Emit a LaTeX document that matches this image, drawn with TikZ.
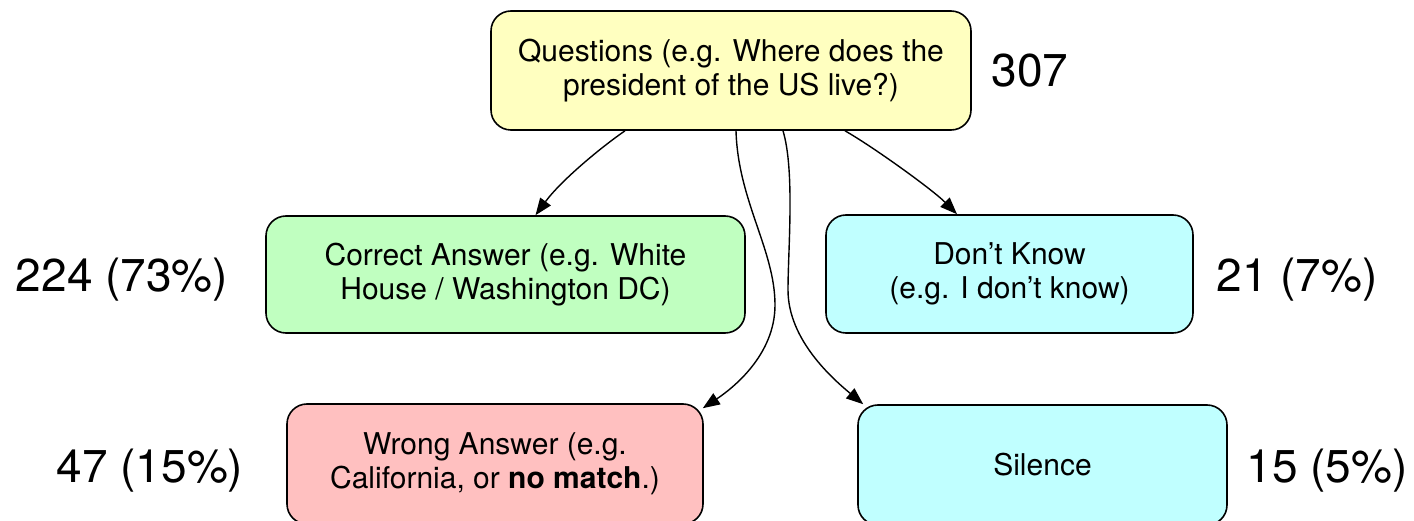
\documentclass[tikz,border=0pt]{standalone}
\usepackage{fontspec}
\setmainfont{TeX Gyre Heros}
\usetikzlibrary{arrows.meta}
\definecolor{qyellow}{RGB}{255,255,192}
\definecolor{cgreen}{RGB}{192,255,192}
\definecolor{dcyan}{RGB}{192,255,255}
\definecolor{wred}{RGB}{255,192,192}
\tikzset{
  box/.style={draw=black, line width=1.6pt, rounded corners=20pt, align=center,
    inner sep=0pt, font=\fontsize{30}{34}\selectfont},
  count/.style={anchor=base, inner sep=0pt, font=\fontsize{46}{50}\selectfont},
  conn/.style={line width=1.4pt, -{Triangle[length=17pt,width=13pt]}}
}
\begin{document}
\begin{tikzpicture}[x=1pt,y=-1pt]
\useasboundingbox (0,0) rectangle (1414,521);
\node[box, fill=qyellow, minimum width=480pt, minimum height=119pt] (q) at (731,70.5)
  {Questions (e.g. Where does the\\president of the US live?)};
\node[box, fill=cgreen, minimum width=479pt, minimum height=117pt] (c) at (505.5,274.5)
  {Correct Answer (e.g. White\\House / Washington DC)};
\node[box, fill=dcyan, minimum width=367pt, minimum height=118pt] (d) at (1009.5,274)
  {Don’t Know\\(e.g. I don’t know)};
\node[box, fill=wred, minimum width=416pt, minimum height=120pt] (w) at (495,464)
  {Wrong Answer (e.g.\\California, or \textbf{no match}.)};
\node[box, fill=dcyan, minimum width=369pt, minimum height=120pt] (s) at (1042.5,465)
  {Silence};

\node[count] (nq) at (1030,87) {307};
\node[count] (nc) at (122,292) {224 (73\%)};
\node[count] (nd) at (1297,292) {21 (7\%)};
\node[count] (nw) at (150,482) {47 (15\%)};
\node[count] (ns) at (1327,482) {15 (5\%)};

\coordinate (wm) at (775,305);
\coordinate (sm) at (788,290);

\draw[conn] ([xshift=-106pt]q.south) .. controls +(-26,18) and +(25,-34) .. ([xshift=30pt]c.north);
\draw[conn] ([xshift=114pt]q.south) .. controls +(28,16) and +(-25,-25) .. ([xshift=-52.5pt]d.north);
\draw[conn] ([xshift=5pt]q.south) .. controls +(2,70) and +(0,-55) .. (wm)
  .. controls +(0,50) and +(30,-20) .. ([shift={(-1pt,-5pt)}]w.north east);
\draw[conn] ([xshift=52pt]q.south) .. controls +(12,40) and +(0,-40) .. (sm)
  .. controls +(0,50) and +(-30,-25) .. ([xshift=6pt]s.north west);
\end{tikzpicture}
\end{document}
